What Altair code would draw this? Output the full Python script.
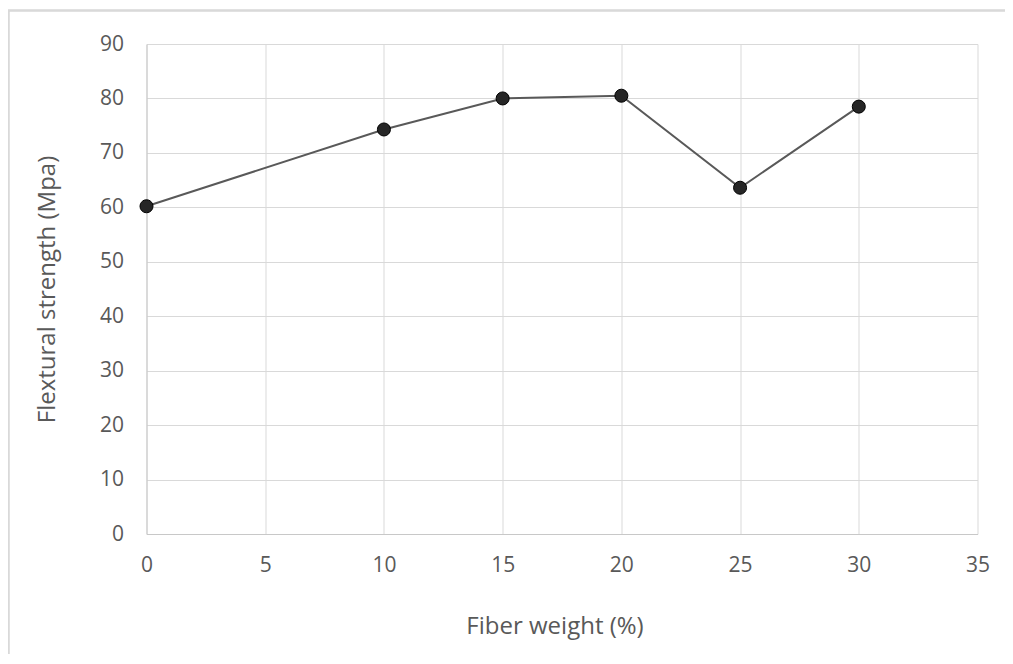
import altair as alt
import pandas as pd

fiber_weight = [0, 10, 15, 20, 25, 30]
flexural_strength = [60.2, 74.3, 80.0, 80.5, 63.6, 78.5]

x_ticks = [0, 5, 10, 15, 20, 25, 30, 35]
y_ticks = [0, 10, 20, 30, 40, 50, 60, 70, 80, 90]

df = pd.DataFrame({"w": fiber_weight, "s": flexural_strength})

FONT = "Open Sans"
TXT = "#595959"

x_enc = alt.X(
    "w:Q",
    scale=alt.Scale(domain=[0, 35], nice=False, zero=False),
    axis=alt.Axis(
        values=x_ticks, title="Fiber weight (%)", grid=True, gridColor="#d9d9d9",
        domainColor="#c8c8c8", ticks=False, labelPadding=31, labelBaseline="middle",
        labelFontSize=21, labelColor=TXT, labelFont=FONT,
        titleFontSize=24, titleColor=TXT, titleFont=FONT, titleFontWeight="normal",
        titleX=408, titleY=99, titleBaseline="alphabetic", titleAlign="center",
        labelFlush=False,
    ),
)
y_enc = alt.Y(
    "s:Q",
    scale=alt.Scale(domain=[0, 90], nice=False),
    axis=alt.Axis(
        values=y_ticks, title="Flextural strength (Mpa)", grid=True, gridColor="#d9d9d9",
        domainColor="#c8c8c8", ticks=False, labelPadding=23, labelBaseline="middle",
        labelFontSize=21, labelColor=TXT, labelFont=FONT,
        titleFontSize=24, titleColor=TXT, titleFont=FONT, titleFontWeight="normal",
        titleX=-92.5, titleY=245, titleBaseline="alphabetic", titleAlign="center",
        titleAngle=270, labelFlush=False,
    ),
)

line = alt.Chart(df).mark_line(color="#595959", strokeWidth=2).encode(x=x_enc, y=y_enc)
points = alt.Chart(df).mark_point(
    filled=True, size=170, fill="#262626", stroke="#000000", strokeWidth=1, opacity=1
).encode(x="w:Q", y="s:Q")

border = alt.Chart(df).mark_rect(
    fillOpacity=0, stroke="#d9d9d9", strokeWidth=1.5
).encode(
    x=alt.value(-138), x2=alt.value(900), y=alt.value(-33.5), y2=alt.value(700)
)

chart = alt.layer(border, line, points).properties(
    width=831, height=490,
    autosize=alt.AutoSizeParams(type="none"),
    padding={"left": 138.5, "top": 36, "right": 27, "bottom": 120},
    background="white",
).configure_view(strokeWidth=0)

chart.save("out.html", embed_options={"renderer": "svg", "actions": False})
